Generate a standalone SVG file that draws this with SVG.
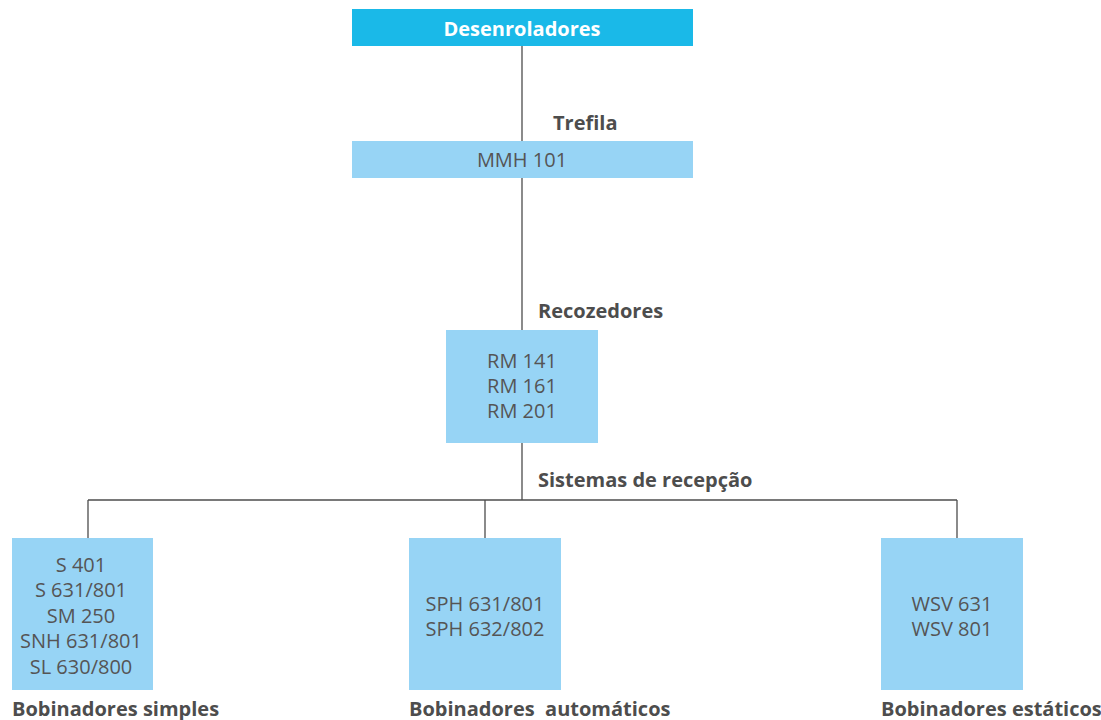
<svg xmlns="http://www.w3.org/2000/svg" width="1101" height="720" viewBox="0 0 1101 720">
<style>
.box{fill:#97d4f5}
.t{font-family:"Open Sans","Noto Sans",sans-serif;font-size:20px;fill:#555;text-anchor:middle}
.b{font-family:"Open Sans","Noto Sans",sans-serif;font-size:20px;font-weight:bold;fill:#4d4d4d}
.ln{stroke:#4d4d4d;stroke-width:1.3;fill:none}
</style>
<rect width="1101" height="720" fill="#fff"/>
<g id="connectors">
<path class="ln" d="M522 46V141M522 178V330M522 443V500M88 500H957M88 500V538M485 500V538M957 500V538"/>
</g>
<g id="desenroladores">
<rect x="352" y="9" width="341" height="37" fill="#1ab9e8"/>
<text x="522" y="36" class="b" style="fill:#fff;text-anchor:middle">Desenroladores</text>
</g>
<g id="trefila">
<text x="553" y="130" class="b">Trefila</text>
<rect class="box" x="352" y="141" width="341" height="37"/>
<text x="522" y="167" class="t">MMH 101</text>
</g>
<g id="recozedores">
<text x="538" y="318" class="b">Recozedores</text>
<rect class="box" x="446" y="330" width="152" height="113"/>
<text x="522" y="368" class="t">RM 141</text>
<text x="522" y="393" class="t">RM 161</text>
<text x="522" y="418" class="t">RM 201</text>
</g>
<g id="sistemas">
<text x="538" y="487" class="b">Sistemas de recepção</text>
</g>
<g id="simples">
<rect class="box" x="12" y="538" width="141" height="152"/>
<text x="81" y="572" class="t">S 401</text>
<text x="81" y="597" class="t">S 631/801</text>
<text x="81" y="623" class="t">SM 250</text>
<text x="81" y="648" class="t">SNH 631/801</text>
<text x="81" y="674" class="t">SL 630/800</text>
<text x="12" y="716" class="b">Bobinadores simples</text>
</g>
<g id="automaticos">
<rect class="box" x="409" y="538" width="152" height="152"/>
<text x="485" y="611" class="t">SPH 631/801</text>
<text x="485" y="636" class="t">SPH 632/802</text>
<text x="409" y="716" class="b" xml:space="preserve">Bobinadores  automáticos</text>
</g>
<g id="estaticos">
<rect class="box" x="881" y="538" width="142" height="152"/>
<text x="952" y="611" class="t">WSV 631</text>
<text x="952" y="636" class="t">WSV 801</text>
<text x="881" y="716" class="b">Bobinadores estáticos</text>
</g>
</svg>
